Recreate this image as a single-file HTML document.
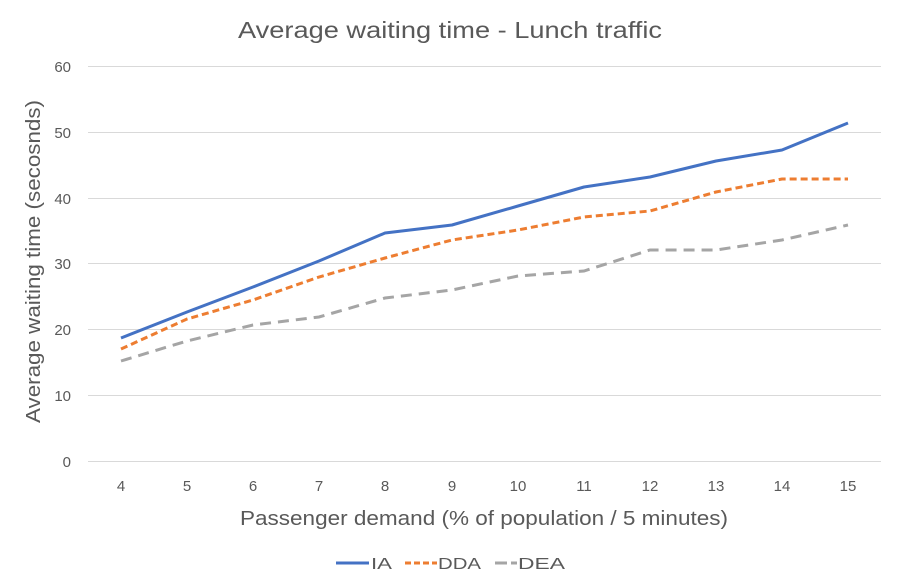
<!DOCTYPE html>
<html><head><meta charset="utf-8"><style>
body{margin:0;background:#fff;}
svg{display:block;font-family:"Liberation Sans",sans-serif;}
</style></head><body>
<svg width="900" height="588" viewBox="0 0 900 588" xmlns="http://www.w3.org/2000/svg">
<rect width="900" height="588" fill="#fff"/>
<text x="238" y="38" font-size="23" fill="#595959" textLength="424" lengthAdjust="spacingAndGlyphs">Average waiting time - Lunch traffic</text>
<g stroke="#d9d9d9" stroke-width="1">
<line x1="88" x2="881" y1="66.5" y2="66.5"/>
<line x1="88" x2="881" y1="132.5" y2="132.5"/>
<line x1="88" x2="881" y1="198.5" y2="198.5"/>
<line x1="88" x2="881" y1="263.5" y2="263.5"/>
<line x1="88" x2="881" y1="329.5" y2="329.5"/>
<line x1="88" x2="881" y1="395.5" y2="395.5"/>
<line x1="88" x2="881" y1="461.5" y2="461.5"/>
</g>
<g font-size="15" fill="#595959" text-anchor="end">
<text x="71" y="72">60</text><text x="71" y="138">50</text><text x="71" y="204">40</text>
<text x="71" y="269">30</text><text x="71" y="335">20</text><text x="71" y="401">10</text><text x="71" y="467">0</text>
</g>
<g font-size="15" fill="#595959" text-anchor="middle">
<text x="121" y="491">4</text><text x="187" y="491">5</text><text x="253" y="491">6</text><text x="319" y="491">7</text>
<text x="385" y="491">8</text><text x="452" y="491">9</text><text x="518" y="491">10</text><text x="584" y="491">11</text>
<text x="650" y="491">12</text><text x="716" y="491">13</text><text x="782" y="491">14</text><text x="848" y="491">15</text>
</g>
<text x="240" y="525" font-size="20" fill="#595959" textLength="488" lengthAdjust="spacingAndGlyphs">Passenger demand (% of population / 5 minutes)</text>
<text transform="translate(40,423) rotate(-90)" font-size="20" fill="#595959" textLength="323" lengthAdjust="spacingAndGlyphs">Average waiting time (secosnds)</text>
<polyline fill="none" stroke="#4472c4" stroke-width="3" stroke-linejoin="round" points="121,338 187,312 253,287 319,261 385,233 452,225 518,206 584,187 650,177 716,161 782,150 848,123"/>
<polyline fill="none" stroke="#ed7d31" stroke-width="3" stroke-dasharray="7,4" points="121,349 187,319 253,300 319,277 385,258 452,240 518,230 584,217 650,211 716,192 782,179 848,179"/>
<polyline fill="none" stroke="#a5a5a5" stroke-width="3" stroke-dasharray="11,7" points="121,361 187,341 253,325 319,317 385,298 452,290 518,276 584,271 650,250 716,250 782,240 848,225"/>
<g font-size="16" fill="#595959">
<line x1="336" x2="369" y1="563" y2="563" stroke="#4472c4" stroke-width="3"/>
<text x="371" y="569" textLength="21" lengthAdjust="spacingAndGlyphs">IA</text>
<line x1="405" x2="437" y1="563" y2="563" stroke="#ed7d31" stroke-width="3" stroke-dasharray="6,3"/>
<text x="438" y="569" textLength="43" lengthAdjust="spacingAndGlyphs">DDA</text>
<line x1="495" x2="507" y1="563" y2="563" stroke="#a5a5a5" stroke-width="3"/>
<line x1="511" x2="517" y1="563" y2="563" stroke="#a5a5a5" stroke-width="3"/>
<text x="518" y="569" textLength="47" lengthAdjust="spacingAndGlyphs">DEA</text>
</g>
</svg>
</body></html>
